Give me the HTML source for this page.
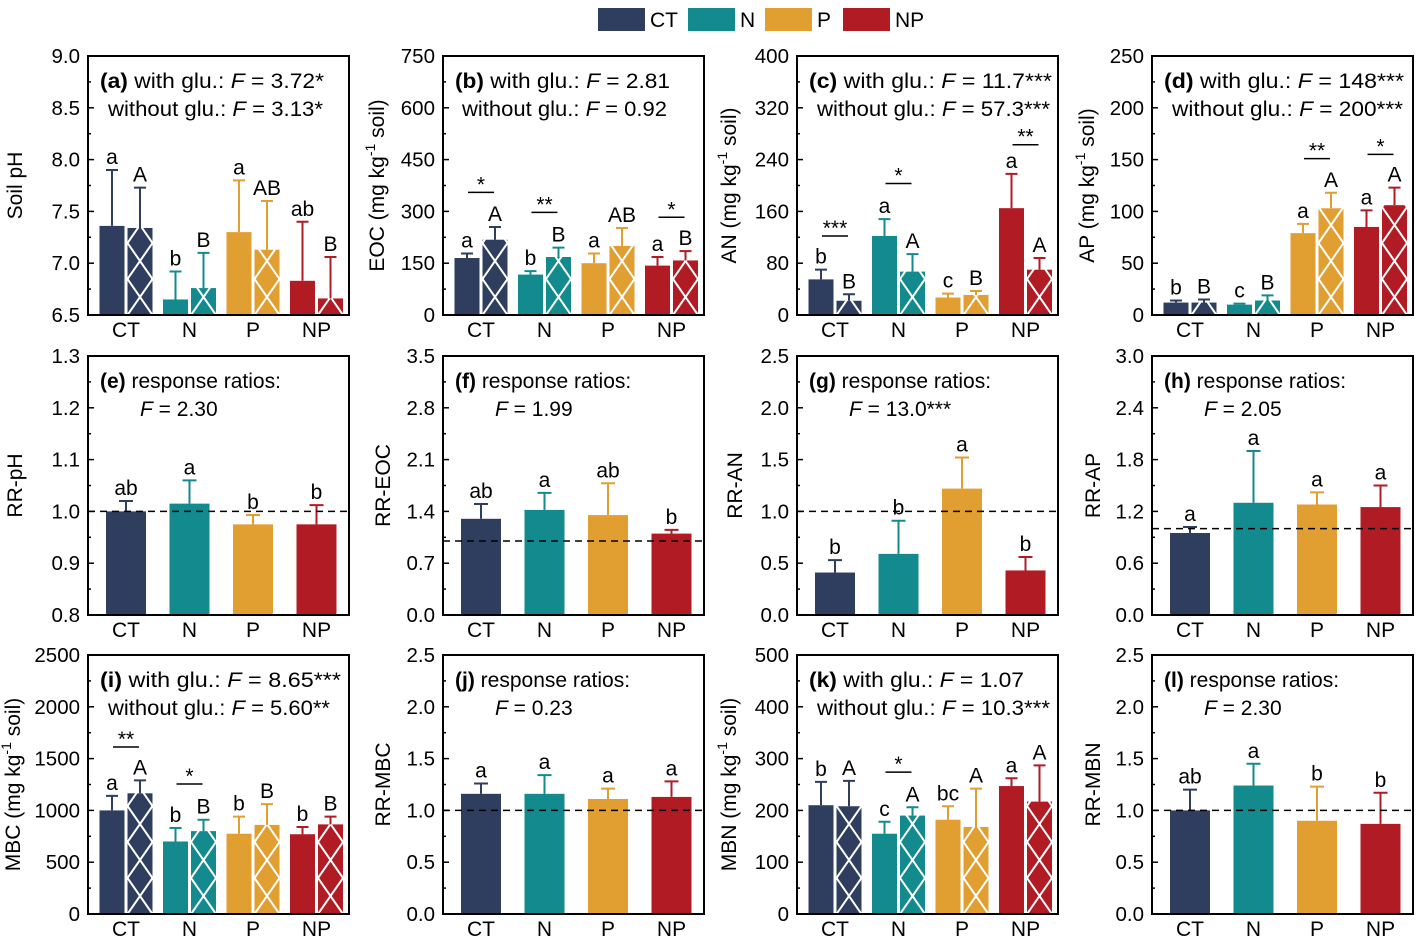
<!DOCTYPE html>
<html><head><meta charset="utf-8"><style>
html,body{margin:0;padding:0;background:#fff;}
svg{display:block;font-family:"Liberation Sans",Arial,sans-serif;}
</style></head><body>
<svg id="fig" width="1417" height="945" viewBox="0 0 1417 945">
<defs id="defs"></defs>
<g id="legend">
<rect x="598" y="8" width="47" height="23" fill="#2f3e5e"/>
<text x="650" y="27" font-size="21">CT</text>
<rect x="688" y="8" width="47" height="23" fill="#138b8e"/>
<text x="740" y="27" font-size="21">N</text>
<rect x="765" y="8" width="47" height="23" fill="#e19e31"/>
<text x="817" y="27" font-size="21">P</text>
<rect x="843" y="8" width="47" height="23" fill="#b01b24"/>
<text x="895" y="27" font-size="21">NP</text>
</g>
</svg>
<script>
const categories = ['CT','N','P','NP'];
const colors = ['#2f3e5e','#138b8e','#e19e31','#b01b24'];

const phWith = [7.36,6.65,7.30,6.83];
const phWithErr = [7.90,6.92,7.80,7.40];
const phWithout = [7.34,6.76,7.13,6.66];
const phWithoutErr = [7.73,7.10,7.60,7.06];
const phLetters1 = ['a','b','a','ab'];
const phLetters2 = ['A','B','AB','B'];
const phTicks = [6.5,7.0,7.5,8.0,8.5,9.0];

const eocWith = [165,117,150,143];
const eocWithErr = [178,127,178,168];
const eocWithout = [218,168,200,158];
const eocWithoutErr = [255,195,252,185];
const eocLetters1 = ['a','b','a','a'];
const eocLetters2 = ['A','B','AB','B'];
const eocSig = ['*','**','','*'];
const eocSigY = [355,297,0,283];
const eocTicks = [0,150,300,450,600,750];

const anWith = [55,122,27,165];
const anWithErr = [70,148,33,218];
const anWithout = [22,67,31,70];
const anWithoutErr = [32,94,37,88];
const anLetters1 = ['b','a','c','a'];
const anLetters2 = ['B','A','B','A'];
const anSig = ['***','*','','**'];
const anSigY = [122,203,0,263];
const anTicks = [0,80,160,240,320,400];

const apWith = [12,10,79,85];
const apWithErr = [14,11,88,101];
const apWithout = [12,14,103,106];
const apWithoutErr = [15,19,118,123];
const apLetters1 = ['b','c','a','a'];
const apLetters2 = ['B','B','A','A'];
const apSig = ['','','**','*'];
const apSigY = [0,0,151,155];
const apTicks = [0,50,100,150,200,250];

const rrPh = [1.0,1.015,0.975,0.975];
const rrPhErr = [1.02,1.06,0.993,1.012];
const rrPhLetters = ['ab','a','b','b'];
const rrPhTicks = [0.8,0.9,1.0,1.1,1.2,1.3];

const rrEoc = [1.30,1.42,1.35,1.10];
const rrEocErr = [1.50,1.65,1.78,1.15];
const rrEocLetters = ['ab','a','ab','b'];
const rrEocTicks = [0,0.7,1.4,2.1,2.8,3.5];

const rrAn = [0.41,0.59,1.22,0.43];
const rrAnErr = [0.53,0.91,1.52,0.56];
const rrAnLetters = ['b','b','a','b'];
const rrAnTicks = [0,0.5,1.0,1.5,2.0,2.5];

const rrAp = [0.95,1.30,1.28,1.25];
const rrApErr = [1.02,1.90,1.42,1.50];
const rrApLetters = ['a','a','a','a'];
const rrApTicks = [0,0.6,1.2,1.8,2.4,3.0];

const mbcWith = [1000,700,775,770];
const mbcWithErr = [1140,830,940,840];
const mbcWithout = [1165,800,860,865];
const mbcWithoutErr = [1290,910,1060,940];
const mbcLetters1 = ['a','b','b','b'];
const mbcLetters2 = ['A','B','B','B'];
const mbcSig = ['**','*','',''];
const mbcSigY = [1612,1255,0,0];
const mbcTicks = [0,500,1000,1500,2000,2500];

const rrMbc = [1.16,1.16,1.11,1.13];
const rrMbcErr = [1.26,1.34,1.21,1.28];
const rrMbcLetters = ['a','a','a','a'];
const rrMbcTicks = [0,0.5,1.0,1.5,2.0,2.5];

const mbnWith = [210,155,182,247];
const mbnWithErr = [255,178,208,262];
const mbnWithout = [208,190,168,217];
const mbnWithoutErr = [257,206,242,287];
const mbnLetters1 = ['b','c','bc','a'];
const mbnLetters2 = ['A','A','A','A'];
const mbnSig = ['','*','',''];
const mbnSigY = [0,274,0,0];
const mbnTicks = [0,100,200,300,400,500];

const rrMbn = [1.0,1.24,0.90,0.87];
const rrMbnErr = [1.20,1.45,1.23,1.17];
const rrMbnLetters = ['ab','a','b','b'];
const rrMbnTicks = [0,0.5,1.0,1.5,2.0,2.5];

const NS='http://www.w3.org/2000/svg';
const svg=document.getElementById('fig');
const defs=document.getElementById('defs');
function mk(tag, attrs, parent){const e=document.createElementNS(NS,tag);for(const k in attrs)e.setAttribute(k,attrs[k]);(parent||svg).appendChild(e);return e;}

const panels=[
 {id:'a',left:88,top:56,ticks:phTicks,dec:1,ylab:['Soil pH'],yoff:-66,type:'dual',s1:phWith,e1:phWithErr,s2:phWithout,e2:phWithoutErr,l1:phLetters1,l2:phLetters2,sig:null,t1:['with glu.: ','3.72*'],t2:['without glu.: ','3.13*'],w1:224,w2:215,x2:20},
 {id:'b',left:443,top:56,ticks:eocTicks,dec:0,ylab:['EOC (mg kg','-1',' soil)'],yoff:-59,type:'dual',s1:eocWith,e1:eocWithErr,s2:eocWithout,e2:eocWithoutErr,l1:eocLetters1,l2:eocLetters2,sig:eocSig,sigY:eocSigY,t1:['with glu.: ','2.81'],t2:['without glu.: ','0.92'],w1:215,w2:205,x2:19},
 {id:'c',left:797,top:56,ticks:anTicks,dec:0,ylab:['AN (mg kg','-1',' soil)'],yoff:-61,type:'dual',s1:anWith,e1:anWithErr,s2:anWithout,e2:anWithoutErr,l1:anLetters1,l2:anLetters2,sig:anSig,sigY:anSigY,t1:['with glu.: ','11.7***'],t2:['without glu.: ','57.3***'],w1:243,w2:233,x2:20},
 {id:'d',left:1152,top:56,ticks:apTicks,dec:0,ylab:['AP (mg kg','-1',' soil)'],yoff:-58,type:'dual',s1:apWith,e1:apWithErr,s2:apWithout,e2:apWithoutErr,l1:apLetters1,l2:apLetters2,sig:apSig,sigY:apSigY,t1:['with glu.: ','148***'],t2:['without glu.: ','200***'],w1:240,w2:231,x2:20},
 {id:'e',left:88,top:356,ticks:rrPhTicks,dec:1,ylab:['RR-pH'],yoff:-66,type:'rr',s1:rrPh,e1:rrPhErr,l1:rrPhLetters,f:'2.30'},
 {id:'f',left:443,top:356,ticks:rrEocTicks,dec:1,ylab:['RR-EOC'],yoff:-53,type:'rr',s1:rrEoc,e1:rrEocErr,l1:rrEocLetters,f:'1.99'},
 {id:'g',left:797,top:356,ticks:rrAnTicks,dec:1,ylab:['RR-AN'],yoff:-55,type:'rr',s1:rrAn,e1:rrAnErr,l1:rrAnLetters,f:'13.0***'},
 {id:'h',left:1152,top:356,ticks:rrApTicks,dec:1,ylab:['RR-AP'],yoff:-52,type:'rr',s1:rrAp,e1:rrApErr,l1:rrApLetters,f:'2.05'},
 {id:'i',left:88,top:655,ticks:mbcTicks,dec:0,ylab:['MBC (mg kg','-1',' soil)'],yoff:-68,type:'dual',s1:mbcWith,e1:mbcWithErr,s2:mbcWithout,e2:mbcWithoutErr,l1:mbcLetters1,l2:mbcLetters2,sig:mbcSig,sigY:mbcSigY,t1:['with glu.: ','8.65***'],t2:['without glu.: ','5.60**'],w1:241,w2:222,x2:20},
 {id:'j',left:443,top:655,ticks:rrMbcTicks,dec:1,ylab:['RR-MBC'],yoff:-53,type:'rr',s1:rrMbc,e1:rrMbcErr,l1:rrMbcLetters,f:'0.23'},
 {id:'k',left:797,top:655,ticks:mbnTicks,dec:0,ylab:['MBN (mg kg','-1',' soil)'],yoff:-61,type:'dual',s1:mbnWith,e1:mbnWithErr,s2:mbnWithout,e2:mbnWithoutErr,l1:mbnLetters1,l2:mbnLetters2,sig:mbnSig,sigY:mbnSigY,t1:['with glu.: ','1.07'],t2:['without glu.: ','10.3***'],w1:215,w2:233,x2:20},
 {id:'l',left:1152,top:655,ticks:rrMbnTicks,dec:1,ylab:['RR-MBN'],yoff:-52,type:'rr',s1:rrMbn,e1:rrMbnErr,l1:rrMbnLetters,f:'2.30'}
];
const W=261,H=259;

panels.forEach(p=>{
 const g=mk('g',{});
 
 
 const mn=p.ticks[0], mx=p.ticks[p.ticks.length-1];
 const ys=v=>p.top+H-(v-mn)/(mx-mn)*H;
 const xc=i=>p.left+38+i*63.5;
 const bottom=p.top+H;

 categories.forEach((c,i)=>{
  const col=colors[i];
  if(p.type==='dual'){
   const x1=xc(i)-26.5, x2=xc(i)+1.5, bw=25;
   const b1=mk('rect',{x:x1,y:ys(p.s1[i]),width:bw,height:bottom-ys(p.s1[i]),fill:col},g);
   
   
   const pid='hat-'+p.id+i;
   const pat=mk('pattern',{id:pid,patternUnits:'userSpaceOnUse',x:x2,y:bottom,width:bw,height:36},defs);
   mk('rect',{x:0,y:0,width:bw,height:36,fill:col},pat);
   mk('path',{d:'M0,0L'+bw+',36M'+bw+',0L0,36',stroke:'#fff','stroke-width':2,fill:'none'},pat);
   const b2=mk('rect',{x:x2,y:ys(p.s2[i]),width:bw,height:bottom-ys(p.s2[i]),fill:'url(#'+pid+')'},g);
   
   
   [[xc(i)-14,p.s1[i],p.e1[i],p.l1[i]],[xc(i)+14,p.s2[i],p.e2[i],p.l2[i]]].forEach(([cx,v,e,lab],k)=>{
    const eb=mk('path',{d:'M'+cx+','+ys(v)+'V'+ys(e)+'M'+(cx-6)+','+ys(e)+'H'+(cx+6),stroke:col,'stroke-width':2,fill:'none'},g);
    
    
    const t=mk('text',{x:cx,y:ys(e)-6,'font-size':21,'text-anchor':'middle'},g);
    t.textContent=lab;
    
    
   });
   if(p.sig && p.sig[i]){
    const ly=ys(p.sigY[i]);
    const ln=mk('line',{x1:xc(i)-13,x2:xc(i)+13,y1:ly,y2:ly,stroke:'#000','stroke-width':1.5},g);
    
    
    const st=mk('text',{x:xc(i),y:ly-1,'font-size':21,'text-anchor':'middle'},g);
    st.textContent=p.sig[i];
    
    
   }
  } else {
   const b=mk('rect',{x:xc(i)-20,y:ys(p.s1[i]),width:40,height:bottom-ys(p.s1[i]),fill:col},g);
   
   
   const cx=xc(i), e=p.e1[i];
   const eb=mk('path',{d:'M'+cx+','+ys(p.s1[i])+'V'+ys(e)+'M'+(cx-7)+','+ys(e)+'H'+(cx+7),stroke:col,'stroke-width':2,fill:'none'},g);
   
   
   const t=mk('text',{x:cx,y:ys(e)-6,'font-size':21,'text-anchor':'middle'},g);
   t.textContent=p.l1[i];
   
   
  }
  const xl=mk('text',{x:xc(i),y:bottom+22,'font-size':21,'text-anchor':'middle'},g);
  xl.textContent=c;
  
  
 });

 if(p.type==='rr'){
  const dl=mk('line',{x1:p.left,x2:p.left+W,y1:ys(1),y2:ys(1),stroke:'#000','stroke-width':1.5,'stroke-dasharray':'7,5'},g);
  
  
 }

 const fr=mk('rect',{x:p.left,y:p.top,width:W,height:H,fill:'none',stroke:'#000','stroke-width':2},g);
 
 

 p.ticks.forEach((v,k)=>{
  const ty=ys(v);
  const tk=mk('line',{x1:p.left,x2:p.left+6,y1:ty,y2:ty,stroke:'#000','stroke-width':1.5},g);
  
  
  if(k<p.ticks.length-1){
   const my=ys((v+p.ticks[k+1])/2);
   const mt=mk('line',{x1:p.left,x2:p.left+3,y1:my,y2:my,stroke:'#000','stroke-width':1.5},g);
   
   
  }
  const tl=mk('text',{x:p.left-8,y:ty+7,'font-size':20.5,'text-anchor':'end'},g);
  tl.textContent=v.toFixed(p.dec);
  
  
 });

 const lx=p.left+p.yoff, lyc=p.top+H/2;
 const yl=mk('text',{x:lx,y:lyc,'font-size':21,'text-anchor':'middle',transform:'rotate(-90 '+lx+' '+lyc+')'},g);
 
 
 if(p.ylab.length===1){yl.textContent=p.ylab[0];}
 else{
  const a=mk('tspan',{},yl);a.textContent=p.ylab[0];
  const s=mk('tspan',{'font-size':14,dy:-9},yl);s.textContent=p.ylab[1];
  const b=mk('tspan',{dy:9},yl);b.textContent=p.ylab[2];
 }

 if(p.type==='dual'){
  const t1=mk('text',{x:p.left+12,y:p.top+32,'font-size':21,textLength:p.w1,lengthAdjust:'spacingAndGlyphs','xml:space':'preserve'},g);
  
  
  const a1=mk('tspan',{'font-weight':'bold'},t1);a1.textContent='('+p.id+')';
  const a2=mk('tspan',{},t1);a2.textContent='  '+p.t1[0];
  const a3=mk('tspan',{'font-style':'italic'},t1);a3.textContent='F';
  const a4=mk('tspan',{},t1);a4.textContent=' = '+p.t1[1];
  const t2=mk('text',{x:p.left+p.x2,y:p.top+60,'font-size':21,textLength:p.w2,lengthAdjust:'spacingAndGlyphs','xml:space':'preserve'},g);
  
  
  const b2=mk('tspan',{},t2);b2.textContent=p.t2[0];
  const b3=mk('tspan',{'font-style':'italic'},t2);b3.textContent='F';
  const b4=mk('tspan',{},t2);b4.textContent=' = '+p.t2[1];
 } else {
  const t1=mk('text',{x:p.left+12,y:p.top+32,'font-size':21,'xml:space':'preserve'},g);
  
  
  const a1=mk('tspan',{'font-weight':'bold'},t1);a1.textContent='('+p.id+')';
  const a2=mk('tspan',{},t1);a2.textContent='  response ratios:';
  const t2=mk('text',{x:p.left+52,y:p.top+60,'font-size':21,'xml:space':'preserve'},g);
  
  
  const b3=mk('tspan',{'font-style':'italic'},t2);b3.textContent='F';
  const b4=mk('tspan',{},t2);b4.textContent=' = '+p.f;
 }
});
</script>
</body></html>
